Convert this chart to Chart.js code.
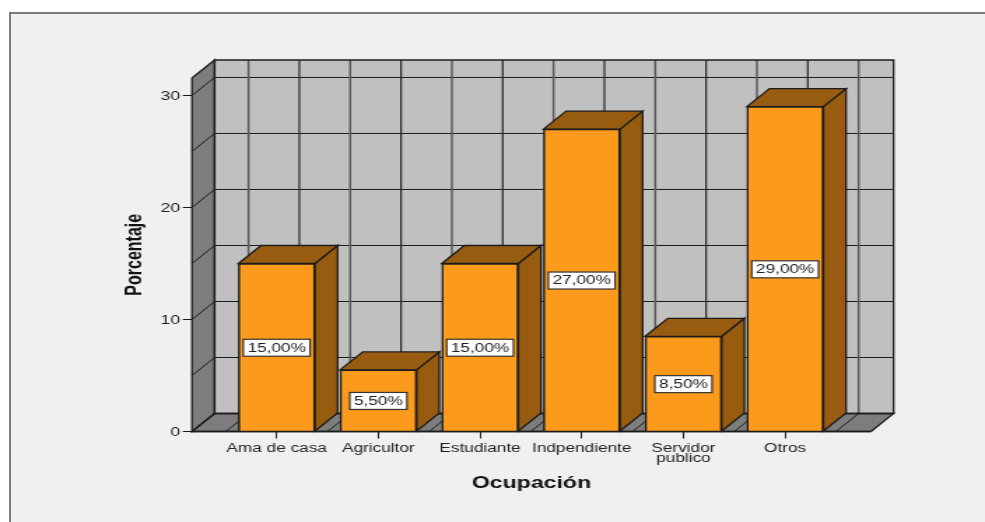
<!DOCTYPE html>
<html><head><meta charset="utf-8">
<script src="https://cdn.jsdelivr.net/npm/chart.js@4"></script>
<style>
html,body{margin:0;padding:0;background:#fff;width:985px;height:522px;overflow:hidden}
#frame{position:absolute;left:9px;top:12px;width:976px;height:510px;background:#f0f0f0;border-top:2px solid #7c7c7c;border-left:2px solid #7c7c7c;box-sizing:border-box}
#c{position:absolute;left:0;top:0;transform-origin:0 0;transform:scaleX(1.3991)}
</style></head><body>
<div id="frame"></div>
<canvas id="c" width="704" height="522" style="width:704px;height:522px"></canvas>
<script>
const categories = ['Ama de casa','Agricultor','Estudiante','Indpendiente',['Servidor','publico'],'Otros'];
const values = [15, 5.5, 15, 27, 8.5, 29];
const valueLabels = ['15,00%','5,50%','15,00%','27,00%','8,50%','29,00%'];
const yTicks = [0,10,20,30];
const wallLines = [0,5,10,15,20,25,30];
const depthLines = [-0.5,0,0.5,1,1.5,2,2.5,3,3.5,4,4.5,5,5.5];

const DX = 16.2, DY = 18, LINE = '#1c1c1c';
const poly = (ctx, pts, fill, stroke, w) => {
  ctx.beginPath();
  pts.forEach((p,i)=> i ? ctx.lineTo(p[0],p[1]) : ctx.moveTo(p[0],p[1]));
  ctx.closePath();
  if (fill) { ctx.fillStyle = fill; ctx.fill(); }
  if (stroke) { ctx.strokeStyle = stroke; ctx.lineWidth = w; ctx.lineJoin='miter'; ctx.stroke(); }
};
const seg = (ctx, a, b, c, w) => {
  ctx.beginPath(); ctx.moveTo(a[0],a[1]); ctx.lineTo(b[0],b[1]);
  ctx.strokeStyle = c; ctx.lineWidth = w; ctx.stroke();
};
const box3d = {
  id: 'box3d',
  beforeDatasetsDraw(chart) {
    const {ctx, chartArea:{left,right,top,bottom}, scales:{x,y}} = chart;
    ctx.save();
    poly(ctx, [[left+DX,top-DY],[right+DX,top-DY],[right+DX,bottom-DY],[left+DX,bottom-DY]], '#c0c0c0');
    poly(ctx, [[left,top],[left+DX,top-DY],[left+DX,bottom-DY],[left,bottom]], '#7d7d7d');
    poly(ctx, [[left,bottom],[left+DX,bottom-DY],[right+DX,bottom-DY],[right,bottom]], '#7d7d7d');
    wallLines.forEach(v => {
      const p = y.getPixelForValue(v);
      if (v > 0) seg(ctx,[left+DX,p-DY],[right+DX,p-DY],LINE,1);
      seg(ctx,[left,p],[left+DX,p-DY],LINE,1);
    });
    depthLines.forEach(v => {
      const p = x.getPixelForValue(v);
      const half = v % 1 !== 0;
      seg(ctx,[p+DX,top-DY],[p+DX,bottom-DY], half ? '#5a5a5a' : '#2a2a2a', half ? 1.5 : 1.2);
      seg(ctx,[p,bottom],[p+DX,bottom-DY],LINE,1);
    });
    poly(ctx, [[left+DX,top-DY],[right+DX,top-DY],[right+DX,bottom-DY],[left+DX,bottom-DY]], null, LINE, 1.3);
    poly(ctx, [[left,top],[left+DX,top-DY],[left+DX,bottom-DY],[left,bottom]], null, LINE, 1.3);
    poly(ctx, [[left,bottom],[left+DX,bottom-DY],[right+DX,bottom-DY],[right,bottom]], null, LINE, 1.3);
    chart.getDatasetMeta(0).data.forEach(b => {
      const l = b.x - b.width/2, r = b.x + b.width/2, t = b.y, u = b.base;
      poly(ctx, [[r,t],[r+DX,t-DY],[r+DX,u-DY],[r,u]], '#985c10', LINE, 1.3);
      poly(ctx, [[l,t],[l+DX,t-DY],[r+DX,t-DY],[r,t]], '#985c10', LINE, 1.3);
    });
    ctx.restore();
  },
  afterDatasetsDraw(chart) {
    const {ctx, chartArea:{left,right,bottom}} = chart;
    ctx.save();
    seg(ctx,[left,bottom],[right,bottom],LINE,1.3);
    ctx.font = '12.3px "Liberation Sans"';
    ctx.textAlign = 'center'; ctx.textBaseline = 'middle';
    chart.getDatasetMeta(0).data.forEach((b,i) => {
      const t = valueLabels[i], w = ctx.measureText(t).width + 6, h = 17;
      const cy = (b.y + b.base)/2 + 0.5;
      ctx.fillStyle = '#fff'; ctx.fillRect(b.x-w/2, cy-h/2, w, h);
      ctx.strokeStyle = '#333'; ctx.lineWidth = 1.2; ctx.strokeRect(b.x-w/2, cy-h/2, w, h);
      ctx.fillStyle = '#222'; ctx.fillText(t, b.x, cy+0.5);
    });
    ctx.restore();
  }
};
new Chart(document.getElementById('c'), {
  type: 'bar',
  data: { datasets: [{
    data: values.map((v,i)=>({x:i,y:v})),
    backgroundColor:'#fc9a1c', borderColor:LINE, borderWidth:1.5,
    barThickness:54.7
  }]},
  options: {
    responsive:false, animation:false, devicePixelRatio:1,
    layout:{padding:{top:78,right:81.5,left:0,bottom:0}},
    plugins:{legend:{display:false},tooltip:{enabled:false}},
    scales:{
      x:{type:'linear',offset:false,min:-0.833,max:5.844,
        afterBuildTicks:s=>{s.ticks=categories.map((_,i)=>({value:i}));},
        afterFit:s=>{s.height=90.5;},
        grid:{offset:false,drawOnChartArea:false,drawTicks:true,tickLength:7,color:LINE,lineWidth:1},
        border:{display:false},
        ticks:{autoSkip:false,maxRotation:0,padding:4.5,color:'#222',
          font:{family:'"Liberation Sans"',size:12.3,lineHeight:0.87},
          callback:v=>categories[v]},
        title:{display:true,text:'Ocupación',color:'#111',
          font:{family:'"Liberation Sans"',size:16.5,weight:'bold'},padding:{top:0,bottom:29}}
      },
      y:{min:0,max:31.56,
        afterBuildTicks:s=>{s.ticks=yTicks.map(v=>({value:v}));},
        afterFit:s=>{s.width=137.2;},
        grid:{drawOnChartArea:false,drawTicks:true,tickLength:6.5,color:LINE,lineWidth:1},
        border:{display:false},
        ticks:{padding:2,labelOffset:1.5,color:'#222',font:{family:'"Liberation Sans"',size:12.5}},
        title:{display:true,text:'Porcentaje',color:'#111',
          font:{family:'"Liberation Sans"',size:16,weight:'bold'},padding:{top:87,bottom:0}}
      }
    }
  },
  plugins:[box3d]
});
</script>
</body></html>
